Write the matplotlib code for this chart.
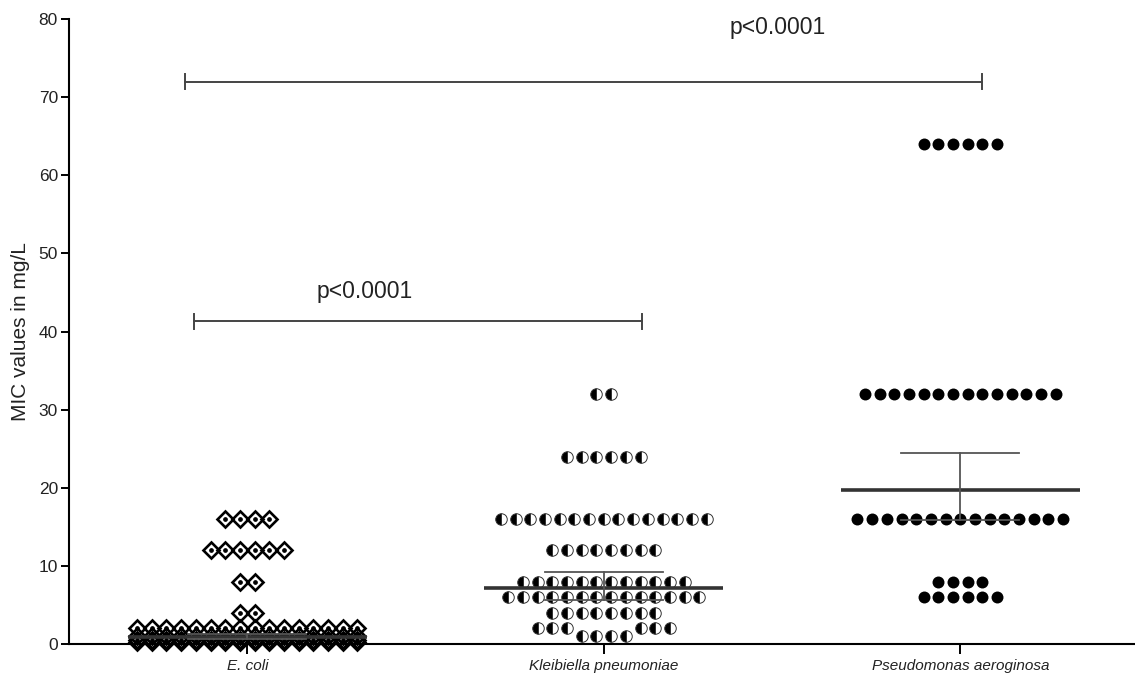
import matplotlib
matplotlib.use("Agg")
import matplotlib.pyplot as plt
import numpy as np

plt.rcParams['font.family'] = ['Liberation Sans', 'DejaVu Sans']

# ---------------- data ----------------
groups = ["E. coli", "Kleibiella pneumoniae", "Pseudomonas aeroginosa"]

ecoli_mic = [0.25, 0.5, 1, 2, 4, 8, 12, 16]
ecoli_n = [16, 16, 16, 16, 2, 2, 6, 4]

kleb_mic = [1, 2, 4, 6, 8, 12, 16, 24, 32]
kleb_n = [4, 6, 8, 14, 12, 8, 15, 6, 2]

pseudo_mic = [6, 8, 16, 32, 64]
pseudo_n = [6, 4, 15, 14, 6]

means = [0.95, 7.2, 19.7]
err_low = [0.7, 5.6, 15.9]
err_high = [1.25, 9.2, 24.4]

yticks = [0, 10, 20, 30, 40, 50, 60, 70, 80]
sig_labels = ["p<0.0001", "p<0.0001"]

# ---------------- layout constants ----------------
W, H, DPI = 11.35, 6.86, 100
slot = 0.0412          # horizontal spacing of points (data units)
px_per_unit = 7.81     # vertical pixels per MIC unit
collide_px = 14.7      # point diameter in pixels


def arrange(mic, counts, max_half=8):
    """Row-wise swarm: place each row in the free slots nearest the centre."""
    placed = []
    xs, ys = [], []
    for v, n in sorted(zip(mic, counts)):
        base = 0.5 if n % 2 == 0 else 0.0
        cands = sorted([base + k for k in range(-40, 41)], key=lambda o: (abs(o), o))
        near = [p for p in placed if abs(p[1] - v) * px_per_unit < collide_px]
        free = [o for o in cands
                if abs(o) <= max_half and all(abs(o - p[0]) >= 1 for p in near)]
        if len(free) >= n:
            chosen = sorted(free[:n])
        else:
            chosen = [i - (n - 1) / 2 for i in range(n)]
        for o in chosen:
            placed.append((o, v))
            xs.append(o * slot)
            ys.append(v)
    return np.array(xs), np.array(ys)


fig = plt.figure(figsize=(W, H), dpi=DPI)
ax = fig.add_axes([69 / 1135, 42 / 686, 1 - 69 / 1135, (644 - 19) / 686])

pos = [1, 2, 3]

# E. coli: open diamonds with a centre dot
ex, ey = arrange(ecoli_mic, ecoli_n)
ax.plot(pos[0] + ex, ey, ls='none', marker='D', markersize=8.3,
        markerfacecolor='none', markeredgecolor='black', markeredgewidth=1.9,
        clip_on=False, zorder=3)
ax.plot(pos[0] + ex, ey, ls='none', marker='o', markersize=2.4,
        color='black', clip_on=False, zorder=3)

# Klebsiella: half-filled circles
kx, ky = arrange(kleb_mic, kleb_n)
ax.plot(pos[1] + kx, ky, ls='none', marker='o', markersize=8.3,
        fillstyle='left', markerfacecolor='black', markerfacecoloralt='white',
        markeredgecolor='#333333', markeredgewidth=0.7, clip_on=False, zorder=3)

# Pseudomonas: filled circles
px, py = arrange(pseudo_mic, pseudo_n)
ax.plot(pos[2] + px, py, ls='none', marker='o', markersize=8.6,
        color='black', markeredgewidth=0, clip_on=False, zorder=3)

# mean lines and error bars
for p, m, lo, hi in zip(pos, means, err_low, err_high):
    ax.plot([p - 0.335, p + 0.335], [m, m], color='#333333', lw=2.6,
            zorder=4, solid_capstyle='butt')
    ax.plot([p, p], [lo, hi], color='#555555', lw=1.3, zorder=4)
    for yv in (lo, hi):
        ax.plot([p - 0.166, p + 0.166], [yv, yv], color='#555555', lw=1.3, zorder=4)

# significance brackets
brackets = [(0.85, 2.107, 41.3, 1.328, 45.1), (0.826, 3.062, 72.0, 2.487, 78.9)]
for (x0, x1, yb, tx, ty), lab in zip(brackets, sig_labels):
    ax.plot([x0, x1], [yb, yb], color='#444444', lw=1.4)
    for xx in (x0, x1):
        ax.plot([xx, xx], [yb - 1.0, yb + 1.0], color='#444444', lw=1.4)
    ax.text(tx, ty, lab, ha='center', va='center', fontsize=16.5, color='#222222')

ax.set_xlim(0.5, 3.49)
ax.set_ylim(0, 80)
ax.set_yticks(yticks)
ax.set_xticks(pos)
ax.set_xticklabels(groups, fontstyle='italic', fontsize=11, color='#222222')
ax.tick_params(axis='y', labelsize=12.5, labelcolor='#222222', length=6, width=1.4, pad=2)
ax.tick_params(axis='x', length=7, width=1.4, pad=4)
for s in ('top', 'right'):
    ax.spines[s].set_visible(False)
for s in ('left', 'bottom'):
    ax.spines[s].set_linewidth(1.5)
ax.set_ylabel("MIC values in mg/L", fontsize=15, color='#222222', labelpad=6)

fig.savefig("out.png", dpi=DPI)
